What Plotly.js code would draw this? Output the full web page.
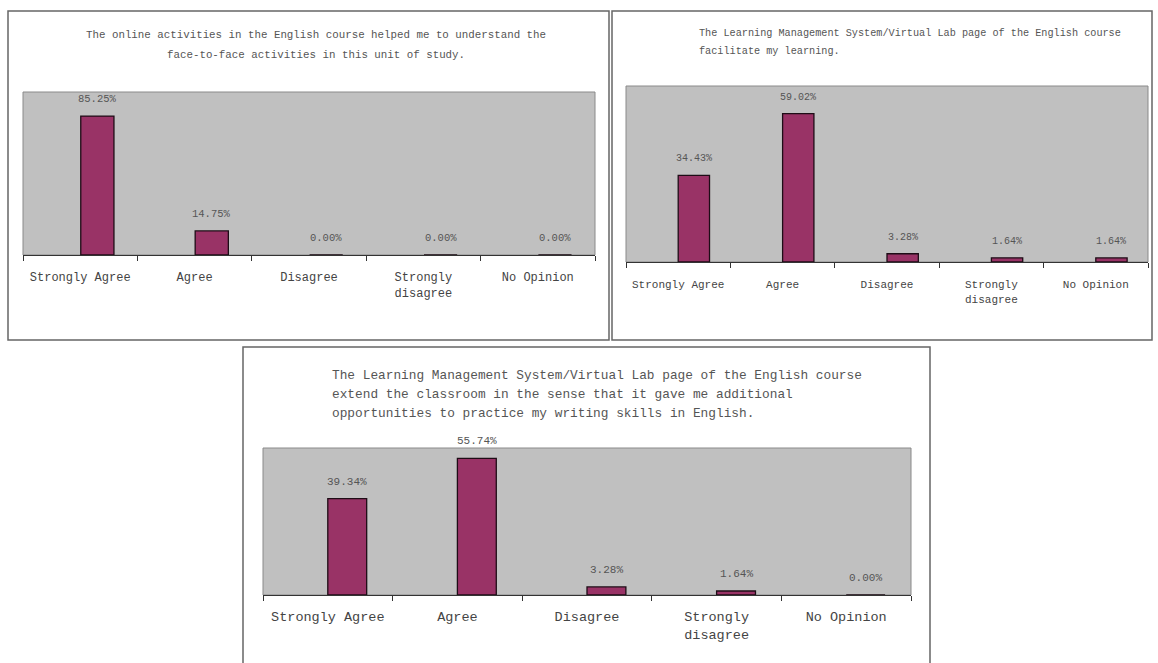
<!DOCTYPE html>
<html>
<head>
<meta charset="utf-8">
<script src="https://cdn.plot.ly/plotly-3.0.1.min.js"></script>
<style>html,body{margin:0;padding:0;background:#fff;}#chart{width:1158px;height:663px;}</style>
</head>
<body>
<div id="chart"></div>
<script>
// ---- data ----
const categories = ["Strongly Agree", "Agree", "Disagree", "Strongly<br>disagree", "No Opinion"];
const q1Values = [85.25, 14.75, 0.00, 0.00, 0.00];
const q2Values = [34.43, 59.02, 3.28, 1.64, 1.64];
const q3Values = [39.34, 55.74, 3.28, 1.64, 0.00];
const q1Title = ["The online activities in the English course helped me to understand the",
                 "face-to-face activities in this unit of study."];
const q2Title = ["The Learning Management System/Virtual Lab page of the English course",
                 "facilitate my learning."];
const q3Title = ["The Learning Management System/Virtual Lab page of the English course",
                 "extend the classroom in the sense that it gave me additional",
                 "opportunities to practice my writing skills in English."];

// ---- layout helpers ----
const W = 1158, H = 663;
const px = x => x / W;
const py = y => 1 - y / H;
const FONT = "Liberation Mono, DejaVu Sans Mono, monospace";
const BAR = "#993366";
const SHIFT = 0.15; // bars sit slightly right of category centre

const panels = [
  {vals: q1Values, title: q1Title, xa: "x", ya: "y", xd: [23, 595], yd: [92, 255], yr: [0, 100], bw: 0.29,
   box: [8, 11, 609, 340], tx: 316, tAnchor: "center", ty: [35, 55], tSize: 10.8, catSize: 12, valSize: 10.5, stand: 11},
  {vals: q2Values, title: q2Title, xa: "x2", ya: "y2", xd: [626, 1148], yd: [86, 262], yr: [0, 70], bw: 0.3,
   box: [612, 11, 1152, 340], tx: 697, tAnchor: "left", ty: [33, 52], tSize: 10.2, catSize: 11, valSize: 10, stand: 12},
  {vals: q3Values, title: q3Title, xa: "x3", ya: "y3", xd: [263, 911], yd: [448, 595], yr: [0, 60], bw: 0.3,
   box: [243, 347, 930, 670], tx: 330, tAnchor: "left", ty: [375, 394, 413], tSize: 12.8, catSize: 13.5, valSize: 11, stand: 9}
];

const traces = [];
const annotations = [];
const shapes = [];
const layout = {
  width: W, height: H,
  margin: {l: 0, r: 0, t: 0, b: 0},
  paper_bgcolor: "#ffffff",
  plot_bgcolor: "#c0c0c0",
  showlegend: false,
  font: {family: FONT, color: "#444"}
};

panels.forEach((p, i) => {
  traces.push({
    type: "bar",
    x: categories, y: p.vals,
    xaxis: p.xa, yaxis: p.ya,
    width: p.bw,
    offset: SHIFT - p.bw / 2,
    marker: {color: BAR, line: {color: "#1e0c16", width: 1.3}},
    hoverinfo: "x+y"
  });
  const suffix = i === 0 ? "" : String(i + 1);
  layout["xaxis" + suffix] = {
    domain: [px(p.xd[0]), px(p.xd[1])],
    anchor: p.ya,
    type: "category",
    range: [-0.5, categories.length - 0.5],
    showgrid: false, zeroline: false,
    showline: true, linecolor: "#333", linewidth: 1,
    ticks: "outside", tickson: "boundaries", ticklen: 5, tickcolor: "#333",
    ticklabelstandoff: p.stand,
    tickfont: {family: FONT, size: p.catSize, color: "#444"},
    fixedrange: true
  };
  layout["yaxis" + suffix] = {
    domain: [py(p.yd[1]), py(p.yd[0])],
    anchor: p.xa,
    range: p.yr,
    showgrid: false, zeroline: false, showline: false,
    showticklabels: false, ticks: "",
    fixedrange: true
  };
  // value labels
  p.vals.forEach((v, k) => {
    annotations.push({
      xref: p.xa, yref: p.ya, x: k + SHIFT, y: v,
      text: v.toFixed(2) + "%", showarrow: false,
      yanchor: "bottom", yshift: 9,
      font: {family: FONT, size: p.valSize, color: "#555"}
    });
  });
  // title lines
  p.title.forEach((line, k) => {
    annotations.push({
      xref: "paper", yref: "paper", x: px(p.tx), y: py(p.ty[k]),
      xanchor: p.tAnchor, yanchor: "middle",
      text: line, showarrow: false,
      font: {family: FONT, size: p.tSize, color: "#555"}
    });
  });
  // plot area frame
  shapes.push({
    type: "rect", xref: p.xa + " domain", yref: p.ya + " domain",
    x0: 0, x1: 1, y0: 0, y1: 1,
    line: {color: "#8a8a8a", width: 1}, layer: "below"
  });
  // panel frame
  shapes.push({
    type: "rect", xref: "paper", yref: "paper",
    x0: px(p.box[0]), x1: px(p.box[2]), y0: py(p.box[3]), y1: py(p.box[1]),
    line: {color: "#666", width: 1.5}, fillcolor: "rgba(0,0,0,0)", layer: "below"
  });
});

layout.annotations = annotations;
layout.shapes = shapes;

Plotly.newPlot("chart", traces, layout, {displayModeBar: false, staticPlot: true});
</script>
</body>
</html>
